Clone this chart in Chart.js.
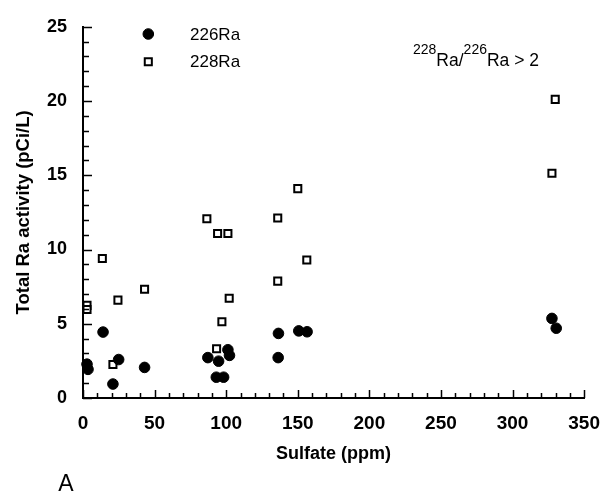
<!DOCTYPE html>
<html lang="en">
<head>
    <meta charset="UTF-8">
    <title>Total Ra activity vs Sulfate</title>
    <style>
        html, body { margin: 0; padding: 0; background: #fff; }
        #wrap { width: 614px; height: 498px; }
    </style>
</head>
<body>
    <div id="wrap"><canvas id="raChart" width="614" height="498"></canvas></div>
    <script src="https://cdn.jsdelivr.net/npm/chart.js@4.4.1/dist/chart.umd.min.js"></script>
    <script>
        // 226Ra (filled circles)
        const sulfate226 = [2.8, 3.5, 14.0, 20.9, 24.9, 43.0, 87.2, 94.7, 93.1, 98.2, 101.2, 102.3, 136.5, 136.3, 150.7, 156.5, 327.5, 330.5];
        const ra226 = [2.28, 1.93, 4.44, 0.94, 2.59, 2.06, 2.72, 2.48, 1.40, 1.40, 3.25, 2.87, 4.35, 2.72, 4.52, 4.46, 5.36, 4.70];

        // 228Ra (open squares)
        const sulfate228 = [2.8, 2.8, 13.5, 24.4, 20.9, 43.0, 86.5, 94.0, 101.2, 102.1, 97.0, 93.3, 136.0, 150.0, 156.3, 136.0, 327.5, 329.8];
        const ra228 = [6.24, 5.96, 9.39, 6.59, 2.26, 7.32, 12.07, 11.08, 11.08, 6.72, 5.14, 3.32, 12.12, 14.10, 9.30, 7.87, 15.14, 20.11];

        const xTickLabels = [0, 50, 100, 150, 200, 250, 300, 350];
        const yTickLabels = [0, 5, 10, 15, 20, 25];
        const xMinorStep = 10;
        const yMinorStep = 1;

        const FONT = "'Liberation Sans', Arial, Helvetica, sans-serif";

        function toPoints(xs, ys) {
            return xs.map((x, i) => ({ x: x, y: ys[i] }));
        }

        // inward tick marks, legend and labels drawn on top
        const extras = {
            id: 'extras',
            afterDraw(chart) {
                const { ctx, chartArea, scales: { x, y } } = chart;
                ctx.save();
                ctx.strokeStyle = '#000';
                ctx.lineWidth = 1.5;
                ctx.beginPath();
                for (let v = 0; v <= y.max; v += yMinorStep) {
                    const py = Math.round(y.getPixelForValue(v)) + 0.5;
                    const len = v % 5 === 0 ? 9 : 6;
                    ctx.moveTo(chartArea.left, py);
                    ctx.lineTo(chartArea.left + len, py);
                }
                for (let v = 0; v <= x.max; v += xMinorStep) {
                    const px = Math.round(x.getPixelForValue(v)) + 0.5;
                    const len = v % 50 === 0 ? 8 : 5;
                    ctx.moveTo(px, chartArea.bottom);
                    ctx.lineTo(px, chartArea.bottom - len);
                }
                ctx.stroke();

                // legend
                const sets = chart.data.datasets;
                const rows = [[34, 0], [61.7, 1]];
                ctx.font = '17px ' + FONT;
                ctx.textBaseline = 'middle';
                ctx.textAlign = 'left';
                rows.forEach(([ly, i]) => {
                    const ds = sets[i];
                    ctx.fillStyle = ds.pointBackgroundColor;
                    ctx.strokeStyle = ds.pointBorderColor;
                    ctx.lineWidth = ds.pointBorderWidth;
                    Chart.helpers.drawPoint(ctx, {
                        pointStyle: ds.pointStyle,
                        radius: ds.pointRadius,
                        borderWidth: ds.pointBorderWidth,
                        rotation: 0
                    }, 148.3, ly);
                    ctx.fillStyle = '#000';
                    ctx.fillText(ds.label, 190, ly + 1);
                });

                // ratio annotation with superscripts
                ctx.textBaseline = 'alphabetic';
                let tx = 413;
                const base = 66;
                const parts = [['228', true], ['Ra/', false], ['226', true], ['Ra > 2', false]];
                parts.forEach(([t, sup]) => {
                    ctx.font = (sup ? '14px ' : '17.5px ') + FONT;
                    ctx.fillText(t, tx, sup ? base - 12 : base);
                    tx += ctx.measureText(t).width;
                });

                // panel letter
                ctx.font = '23px ' + FONT;
                ctx.textAlign = 'center';
                ctx.textBaseline = 'middle';
                ctx.fillText('A', 66, 485);
                ctx.restore();
            }
        };

        const ctx = document.getElementById('raChart').getContext('2d');
        const raChart = new Chart(ctx, {
            type: 'scatter',
            data: {
                datasets: [
                    {
                        label: '226Ra',
                        data: toPoints(sulfate226, ra226),
                        pointStyle: 'circle',
                        pointRadius: 5.3,
                        pointBackgroundColor: '#000',
                        pointBorderColor: '#000',
                        pointBorderWidth: 1,
                        clip: false
                    },
                    {
                        label: '228Ra',
                        data: toPoints(sulfate228, ra228),
                        pointStyle: 'rect',
                        pointRadius: 5,
                        pointBackgroundColor: '#fff',
                        pointBorderColor: '#000',
                        pointBorderWidth: 2,
                        clip: false
                    }
                ]
            },
            options: {
                responsive: false,
                animation: false,
                devicePixelRatio: 1,
                layout: { padding: { left: 0, right: 29, top: 20, bottom: 0 } },
                plugins: {
                    legend: { display: false },
                    tooltip: { enabled: false }
                },
                scales: {
                    x: {
                        type: 'linear',
                        min: 0,
                        max: 350,
                        grid: { display: false, drawTicks: false },
                        border: { display: true, color: '#000', width: 2 },
                        afterBuildTicks: s => { s.ticks = xTickLabels.map(v => ({ value: v })); },
                        afterFit: s => { s.height = 100; },
                        ticks: {
                            color: '#000',
                            padding: 14,
                            maxRotation: 0,
                            font: { family: FONT, size: 19, weight: 'bold' }
                        },
                        title: {
                            display: true,
                            text: 'Sulfate (ppm)',
                            color: '#000',
                            font: { family: FONT, size: 18, weight: 'bold' },
                            padding: { top: 0, bottom: 33 }
                        }
                    },
                    y: {
                        type: 'linear',
                        min: 0,
                        max: 25,
                        grid: { display: false, drawTicks: false },
                        border: { display: true, color: '#000', width: 2 },
                        afterBuildTicks: s => { s.ticks = yTickLabels.map(v => ({ value: v })); },
                        afterFit: s => { s.width = 83; },
                        ticks: {
                            color: '#000',
                            padding: 16,
                            font: { family: FONT, size: 18, weight: 'bold' }
                        },
                        title: {
                            display: true,
                            text: 'Total Ra activity (pCi/L)',
                            color: '#000',
                            font: { family: FONT, size: 18.5, weight: 'bold' },
                            padding: { top: 13, bottom: 0 }
                        }
                    }
                }
            },
            plugins: [extras]
        });
    </script>
</body>
</html>
